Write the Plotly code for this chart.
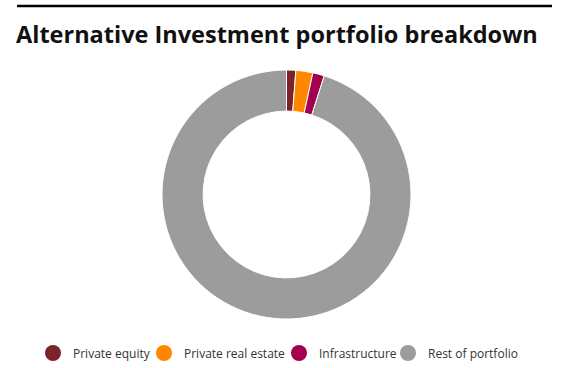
import plotly.graph_objects as go

categories = ["Private equity", "Private real estate", "Infrastructure", "Rest of portfolio"]
values = [1.2, 2.2, 1.5, 95.1]
colors = ["#7B2329", "#FF8700", "#A3004F", "#9C9C9C"]
title_text = "Alternative Investment portfolio breakdown"

W, H = 561, 368

fig = go.Figure()

# donut
cx, cy, R = 286.5, 194.5, 124.5
fig.add_trace(go.Pie(
    labels=categories, values=values, hole=0.67, sort=False, direction="clockwise",
    rotation=0, textinfo="none", hoverinfo="label+percent",
    marker=dict(colors=colors, line=dict(color="white", width=1)),
    showlegend=False,
    domain=dict(x=[(cx - R) / W, (cx + R) / W], y=[(H - cy - R) / H, (H - cy + R) / H]),
))

# legend entries (circle markers), one legend each for exact placement
centers = [54, 165, 300, 409]
legend_names = ["legend", "legend2", "legend3", "legend4"]
for name, col, lg in zip(categories, colors, legend_names):
    fig.add_trace(go.Scatter(
        x=[None], y=[None], mode="markers", name=name, legend=lg,
        marker=dict(color=col, size=16, symbol="circle"), showlegend=True,
    ))

legend_style = dict(
    orientation="h", xanchor="left", yanchor="middle", y=(H - 353) / H,
    font=dict(family="Open Sans", size=12, color="#333333"),
    bgcolor="rgba(0,0,0,0)", borderwidth=0, itemsizing="trace",
)
layout_legends = {}
for lg, c in zip(legend_names, centers):
    layout_legends[lg] = dict(legend_style, x=(c - 21) / W)

fig.update_layout(
    width=W, height=H, margin=dict(l=0, r=0, t=0, b=0),
    paper_bgcolor="white", plot_bgcolor="white",
    xaxis=dict(visible=False), yaxis=dict(visible=False),
    title=dict(text="<b>" + title_text + "</b>", x=16 / W, xanchor="left", xref="paper",
               y=1 - 35 / H, yanchor="middle", yref="container",
               font=dict(family="Open Sans", size=23.5, color="#111111")),
    shapes=[dict(type="line", xref="paper", yref="paper", x0=17 / W, x1=552 / W,
                 y0=(H - 6) / H, y1=(H - 6) / H, line=dict(color="black", width=2.5))],
    **layout_legends,
)

fig.write_html("out.html")
